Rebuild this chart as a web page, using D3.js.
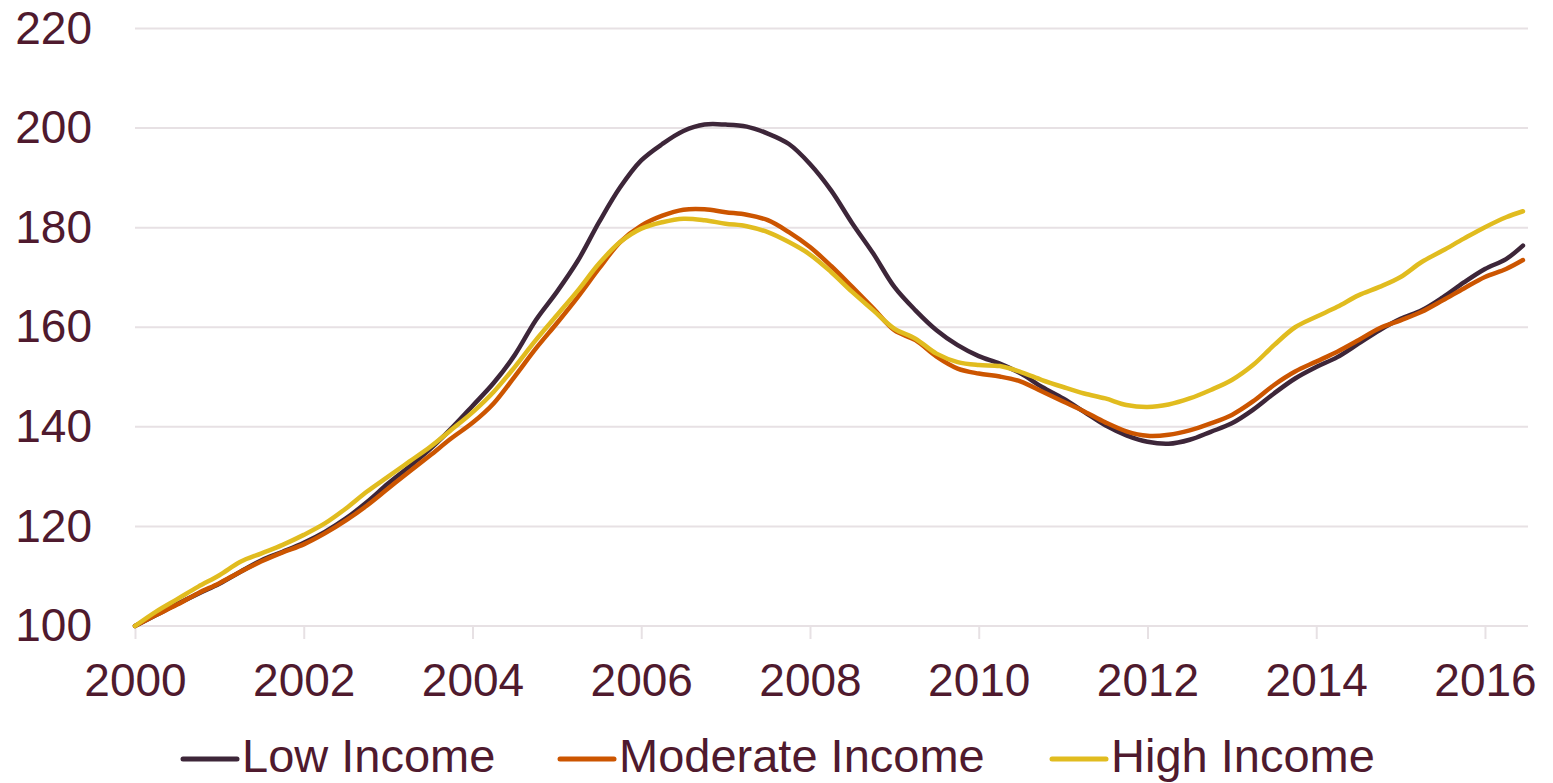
<!DOCTYPE html>
<html>
<head>
<meta charset="utf-8">
<script src="https://cdn.jsdelivr.net/npm/d3@7"></script>
<style>
  html, body { margin: 0; padding: 0; background: #ffffff; }
  svg { display: block; }
  text { font-family: "Liberation Sans", Arial, sans-serif; }
</style>
</head>
<body>
<svg id="chart" width="1553" height="783"></svg>
<script>
// Decimal years, quarterly from 2000 Q1 through mid-2016
const years = [
  2000.00, 2000.25, 2000.50, 2000.75, 2001.00, 2001.25, 2001.50, 2001.75,
  2002.00, 2002.25, 2002.50, 2002.75, 2003.00, 2003.25, 2003.50, 2003.75,
  2004.00, 2004.25, 2004.50, 2004.75, 2005.00, 2005.25, 2005.50, 2005.75,
  2006.00, 2006.25, 2006.50, 2006.75, 2007.00, 2007.25, 2007.50, 2007.75,
  2008.00, 2008.25, 2008.50, 2008.75, 2009.00, 2009.25, 2009.50, 2009.75,
  2010.00, 2010.25, 2010.50, 2010.75, 2011.00, 2011.25, 2011.50, 2011.75,
  2012.00, 2012.25, 2012.50, 2012.75, 2013.00, 2013.25, 2013.50, 2013.75,
  2014.00, 2014.25, 2014.50, 2014.75, 2015.00, 2015.25, 2015.50, 2015.75,
  2016.00, 2016.25, 2016.45
];

// House price index (2000 = 100) by neighborhood income
const lowIncome = [
  100.0, 102.2, 104.4, 106.5, 108.5, 110.9, 113.2, 114.9,
  116.7, 118.9, 121.6, 124.9, 128.6, 132.0, 135.6, 139.7,
  144.2, 148.8, 154.4, 161.4, 167.1, 173.4, 181.1, 188.1,
  193.5, 196.8, 199.4, 200.7, 200.7, 200.3, 198.9, 196.8,
  192.8, 187.5, 180.9, 174.8, 168.1, 163.4, 159.4, 156.4,
  154.2, 152.7, 150.7, 148.0, 145.7, 143.0, 140.3, 138.3,
  137.0, 136.6, 137.4, 139.0, 140.7, 143.4, 146.7, 149.7,
  152.0, 154.0, 156.7, 159.4, 161.7, 163.4, 166.0, 169.0,
  171.7, 173.7, 176.4
];

const moderateIncome = [
  100.0, 102.2, 104.3, 106.6, 108.6, 110.9, 113.0, 114.8,
  116.4, 118.6, 121.2, 124.2, 127.6, 131.0, 134.3, 137.7,
  140.8, 144.7, 150.1, 155.7, 160.8, 166.1, 171.8, 177.1,
  180.4, 182.4, 183.6, 183.7, 183.1, 182.6, 181.5, 179.1,
  176.1, 172.3, 168.1, 163.8, 159.4, 157.4, 154.1, 151.7,
  150.7, 150.1, 149.1, 147.1, 145.1, 143.1, 140.9, 139.1,
  138.2, 138.4, 139.3, 140.7, 142.4, 145.1, 148.4, 151.1,
  153.1, 155.1, 157.4, 159.8, 161.4, 163.1, 165.4, 167.8,
  170.1, 171.7, 173.5
];

const highIncome = [
  100.0, 102.9, 105.4, 107.9, 110.2, 112.9, 114.6, 116.3,
  118.3, 120.6, 123.6, 127.0, 130.0, 133.0, 136.0, 139.4,
  142.9, 147.0, 152.0, 157.4, 162.4, 167.4, 172.8, 177.1,
  179.8, 181.1, 181.8, 181.5, 180.8, 180.3, 179.1, 177.1,
  174.6, 171.1, 167.1, 163.4, 159.7, 157.7, 154.7, 153.0,
  152.4, 152.2, 151.0, 149.4, 148.0, 146.7, 145.7, 144.4,
  144.0, 144.5, 145.7, 147.4, 149.4, 152.4, 156.4, 160.0,
  162.1, 164.1, 166.4, 168.1, 170.1, 173.1, 175.4, 177.8,
  180.1, 182.1, 183.3
];

const seriesNames = ["Low Income", "Moderate Income", "High Income"];
const seriesColors = ["#3d2639", "#cc5500", "#e1bc1f"];
const seriesValues = [lowIncome, moderateIncome, highIncome];

const yTicks = [100, 120, 140, 160, 180, 200, 220];
const xTicks = [2000, 2002, 2004, 2006, 2008, 2010, 2012, 2014, 2016];

const textColor = "#4f1a2e";
const gridColor = "#e7e1e4";
const fontSize = 46;

const svg = d3.select("#chart");

const x = d3.scaleLinear().domain([2000, 2016.51]).range([135, 1528]);
const y = d3.scaleLinear().domain([100, 220]).range([626, 28.5]);

// Horizontal gridlines
svg.append("g")
  .selectAll("line")
  .data(yTicks)
  .join("line")
  .attr("x1", x(2000))
  .attr("x2", x.range()[1])
  .attr("y1", d => y(d))
  .attr("y2", d => y(d))
  .attr("stroke", gridColor)
  .attr("stroke-width", 2);

// Y axis labels
const yAxis = svg.append("g")
  .attr("transform", `translate(${x(2000) - 43},0)`)
  .call(d3.axisLeft(y).tickValues(yTicks).tickSize(0).tickPadding(0).tickFormat(d3.format("d")));
yAxis.select(".domain").remove();
yAxis.selectAll("text")
  .attr("fill", textColor)
  .attr("font-size", fontSize)
  .attr("font-family", "'Liberation Sans', Arial, sans-serif");

// X axis with tick marks below the baseline
const xAxis = svg.append("g")
  .attr("transform", `translate(0,${y(100)})`)
  .call(d3.axisBottom(x).tickValues(xTicks).tickSize(13).tickPadding(24).tickFormat(d3.format("d")));
xAxis.select(".domain").remove();
xAxis.selectAll(".tick line").attr("stroke", gridColor).attr("stroke-width", 2);
xAxis.selectAll("text")
  .attr("fill", textColor)
  .attr("font-size", fontSize)
  .attr("font-family", "'Liberation Sans', Arial, sans-serif");

// Series lines
const line = d3.line()
  .x((d, i) => x(years[i]))
  .y(d => y(d))
  .curve(d3.curveCatmullRom.alpha(0.5));

svg.append("g")
  .selectAll("path")
  .data(seriesValues)
  .join("path")
  .attr("d", d => line(d))
  .attr("fill", "none")
  .attr("stroke", (d, i) => seriesColors[i])
  .attr("stroke-width", 4.5)
  .attr("stroke-linejoin", "round")
  .attr("stroke-linecap", "round");

// Legend
const legendX = [183, 560, 1052];
const legend = svg.append("g");
seriesNames.forEach((name, i) => {
  const g = legend.append("g").attr("transform", `translate(${legendX[i]},759)`);
  g.append("line")
    .attr("x1", 0).attr("x2", 54)
    .attr("y1", 0).attr("y2", 0)
    .attr("stroke", seriesColors[i])
    .attr("stroke-width", 5)
    .attr("stroke-linecap", "round");
  g.append("text")
    .attr("x", 59)
    .attr("y", 13)
    .attr("fill", textColor)
    .attr("font-size", 47)
    .text(name);
});
</script>
</body>
</html>
